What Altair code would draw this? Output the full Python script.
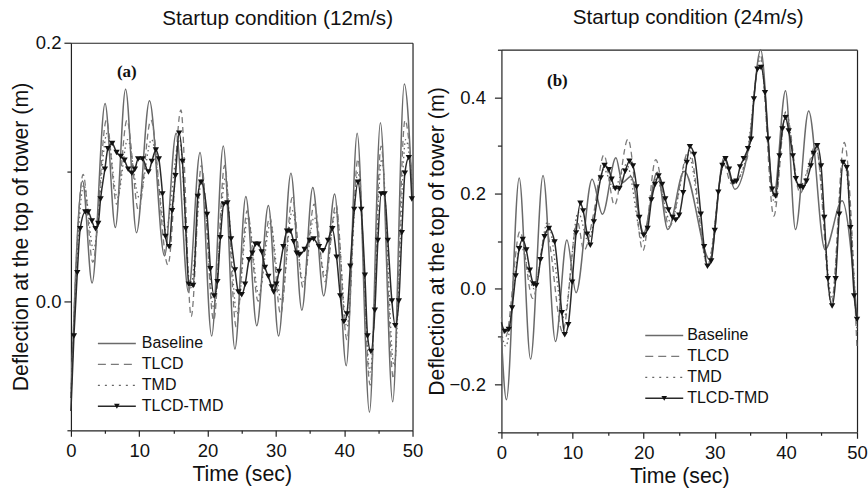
import altair as alt
import pandas as pd

FONT = "Liberation Sans"

# ---------------- Panel (a): startup condition 12 m/s ----------------
a_base_t = [0, 1.7, 3.1, 5.0, 6.5, 8.0, 9.6, 11.5, 13.7, 15.4, 17.2, 18.9, 20.6, 22.3, 24.0, 25.6,
            27.2, 28.9, 30.4, 32.2, 33.8, 35.4, 37.0, 38.6, 40.3, 41.9, 43.7, 45.3, 47.1, 48.8, 50]
a_base_v = [-0.075, 0.093, 0.014, 0.153, 0.057, 0.164, 0.053, 0.155, 0.035, 0.130, 0.007, 0.115,
            -0.027, 0.120, -0.037, 0.081, -0.019, 0.074, -0.027, 0.099, -0.007, 0.088, 0.004, 0.083,
            -0.050, 0.130, -0.086, 0.138, -0.078, 0.168, 0.079]

a_tlcd_t = [0, 1.8, 3.2, 5.2, 6.7, 8.2, 9.9, 11.7, 14.2, 16.1, 17.6, 19.1, 20.9, 22.5, 24.2, 25.8,
            27.4, 29.1, 30.7, 32.4, 34.0, 35.6, 37.2, 38.8, 40.4, 42.0, 43.8, 45.4, 47.2, 48.9, 50]
a_tlcd_v = [-0.075, 0.098, 0.030, 0.140, 0.075, 0.140, 0.070, 0.140, 0.028, 0.148, -0.012, 0.105,
            -0.015, 0.105, -0.020, 0.070, 0.000, 0.065, -0.010, 0.080, 0.010, 0.075, 0.015, 0.075,
            -0.030, 0.110, -0.065, 0.120, -0.060, 0.140, 0.090]

a_tmd_t = [0, 1.9, 3.3, 5.3, 6.8, 8.3, 10.0, 11.8, 13.9, 15.9, 17.5, 19.2, 20.9, 22.6, 24.3, 25.9,
           27.5, 29.2, 30.8, 32.4, 34.0, 35.6, 37.2, 38.8, 40.4, 42.0, 43.8, 45.5, 47.3, 49.0, 50]
a_tmd_v = [-0.075, 0.090, 0.040, 0.130, 0.080, 0.125, 0.080, 0.125, 0.055, 0.125, 0.010, 0.095,
           -0.005, 0.095, -0.010, 0.065, 0.005, 0.060, 0.000, 0.070, 0.015, 0.065, 0.020, 0.070,
           -0.020, 0.100, -0.055, 0.110, -0.050, 0.125, 0.090]

a_comb_t = [0, 0.44, 0.93, 1.36, 2.10, 2.53, 3.07, 3.61, 4.00, 4.34, 4.97, 5.41, 6.04, 6.68, 7.31,
            7.85, 8.38, 8.92, 9.36, 9.84, 10.48, 11.35, 11.84, 12.43, 12.87, 13.40, 13.84, 14.38,
            14.81, 15.30, 15.84, 16.33, 16.81, 17.25, 17.89, 18.57, 19.05, 19.93, 20.42, 20.96,
            21.44, 21.88, 22.37, 22.90, 23.44, 24.02, 24.51, 25.00, 25.49, 26.07, 26.56, 27.00,
            27.44, 27.92, 28.41, 28.90, 29.39, 29.68, 30.07, 30.46, 31.09, 31.63, 32.11, 32.60,
            33.04, 33.48, 34.21, 34.94, 35.53, 36.31, 36.89, 37.62, 38.26, 38.89, 39.42, 39.96,
            40.40, 40.89, 41.47, 42.01, 42.50, 43.03, 43.42, 43.91, 44.49, 44.93, 45.42, 45.91,
            46.39, 46.98, 47.47, 48.00, 48.44, 48.88, 49.46, 49.90]
a_comb_v = [-0.085, -0.027, 0.022, 0.056, 0.069, 0.069, 0.062, 0.056, 0.060, 0.079, 0.102, 0.118,
            0.122, 0.115, 0.112, 0.109, 0.102, 0.099, 0.102, 0.110, 0.110, 0.100, 0.108, 0.117,
            0.110, 0.083, 0.050, 0.042, 0.070, 0.097, 0.130, 0.108, 0.056, 0.013, 0.012, 0.081,
            0.092, 0.067, 0.025, 0.004, 0.015, 0.049, 0.075, 0.076, 0.048, 0.024, 0.007, 0.005,
            0.013, 0.032, 0.037, 0.044, 0.044, 0.038, 0.026, 0.019, 0.011, 0.007, 0.013, 0.023,
            0.042, 0.054, 0.054, 0.046, 0.037, 0.036, 0.040, 0.047, 0.048, 0.042, 0.039, 0.047,
            0.056, 0.034, 0.004, -0.016, -0.010, 0.027, 0.071, 0.092, 0.071, 0.020, -0.027,
            -0.039, -0.007, 0.047, 0.083, 0.083, 0.047, 0.000, -0.019, 0.000, 0.053, 0.099,
            0.111, 0.079]

# ---------------- Panel (b): startup condition 24 m/s ----------------
b_base_t = [0, 0.7, 2.5, 4.1, 5.85, 7.6, 9.2, 10.5, 12.75, 14.2, 16.1, 17.0, 18.2, 20.0, 21.9, 23.4,
            25.7, 29.3, 31.3, 32.85, 34.8, 36.45, 38.3, 39.95, 41.35, 43.2, 45.5, 47.9, 50]
b_base_v = [-0.10, -0.232, 0.232, -0.147, 0.237, -0.110, 0.102, -0.008, 0.229, 0.156, 0.274, 0.222,
            0.235, 0.117, 0.244, 0.124, 0.246, 0.061, 0.274, 0.208, 0.300, 0.500, 0.194, 0.414,
            0.124, 0.372, 0.082, 0.184, -0.060]

b_tlcd_t = [0, 0.6, 2.6, 4.4, 6.3, 8.6, 10.7, 11.6, 13.0, 14.4, 15.9, 17.8, 19.9, 21.7, 23.6, 26.4,
            29.0, 31.3, 32.3, 34.5, 36.4, 38.3, 40.0, 42.0, 44.2, 46.4, 48.2, 50]
b_tlcd_v = [-0.06, -0.100, 0.120, -0.020, 0.120, -0.090, 0.140, 0.080, 0.160, 0.280, 0.175, 0.313,
            0.080, 0.270, 0.130, 0.290, 0.050, 0.260, 0.220, 0.270, 0.490, 0.152, 0.370, 0.200,
            0.300, -0.030, 0.306, -0.127]

b_tmd_t = [0, 0.6, 2.7, 4.6, 6.5, 8.8, 10.8, 12.2, 14.4, 15.8, 17.6, 19.9, 21.8, 23.8, 26.3, 29.0,
           31.4, 32.6, 34.5, 36.4, 38.4, 40.0, 41.8, 44.3, 46.5, 48.1, 50]
b_tmd_v = [-0.09, -0.120, 0.090, 0.000, 0.140, -0.060, 0.160, 0.100, 0.250, 0.210, 0.260, 0.100,
           0.230, 0.140, 0.280, 0.050, 0.270, 0.220, 0.280, 0.480, 0.180, 0.370, 0.210, 0.290,
           -0.020, 0.270, -0.090]

b_comb_t = [0, 0.47, 1.03, 1.5, 2.0, 2.5, 3.0, 3.5, 4.0, 4.5, 4.9, 5.5, 6.07, 6.68, 7.48, 8.5, 8.9,
            9.4, 9.95, 10.5, 11.1, 11.5, 12.06, 12.5, 13.0, 13.97, 14.5, 15.1, 15.5, 16.0, 16.6,
            17.4, 18.0, 18.5, 19.0, 19.4, 20.0, 20.56, 21.1, 21.6, 22.1, 22.6, 23.04, 23.5, 24.07,
            24.5, 25.0, 25.56, 26.07, 26.5, 27.1, 28.04, 28.5, 28.97, 29.5, 30.0, 30.5, 31.07,
            31.5, 32.0, 32.57, 33.04, 33.55, 34.07, 34.67, 35.1, 35.5, 36.0, 36.5, 37.06, 37.5,
            38.08, 38.55, 39.1, 39.5, 39.95, 40.4, 40.98, 41.4, 41.96, 42.4, 42.9, 43.5, 43.9,
            44.4, 44.95, 45.4, 45.9, 46.5, 47.0, 47.5, 48.04, 48.55, 49.07, 49.6, 50]
b_comb_v = [-0.07, -0.089, -0.085, -0.040, 0.027, 0.084, 0.103, 0.081, 0.039, 0.010, 0.007, 0.061,
            0.109, 0.126, 0.098, -0.050, -0.096, -0.075, 0.014, 0.117, 0.179, 0.163, 0.114, 0.091,
            0.140, 0.232, 0.258, 0.249, 0.229, 0.210, 0.210, 0.246, 0.267, 0.257, 0.213, 0.149,
            0.112, 0.126, 0.186, 0.218, 0.236, 0.218, 0.188, 0.165, 0.149, 0.144, 0.154, 0.201,
            0.264, 0.297, 0.281, 0.156, 0.088, 0.047, 0.058, 0.122, 0.202, 0.258, 0.272, 0.250,
            0.223, 0.225, 0.255, 0.272, 0.293, 0.313, 0.397, 0.459, 0.463, 0.410, 0.313, 0.208,
            0.194, 0.278, 0.334, 0.358, 0.330, 0.278, 0.230, 0.214, 0.212, 0.225, 0.257, 0.283,
            0.299, 0.257, 0.149, 0.021, -0.036, 0.021, 0.156, 0.264, 0.253, 0.128, -0.015, -0.064]

legend_labels = ["Baseline", "TLCD", "TMD", "TLCD-TMD"]
x_major = [0, 10, 20, 30, 40, 50]
x_minor = [5, 15, 25, 35, 45]
a_y_major = [0.0, 0.2]
a_y_minor = [-0.1, 0.1]
b_y_major = [-0.2, 0.0, 0.2, 0.4]
b_y_minor = [-0.3, -0.1, 0.1, 0.3, 0.5]

STYLES = {
    "Baseline": dict(color="#6a6a6a", strokeWidth=1.5),
    "TLCD": dict(color="#7a7a7a", strokeWidth=1.3, strokeDash=[6, 4]),
    "TMD": dict(color="#666666", strokeWidth=1.3, strokeDash=[1.5, 3]),
    "TLCD-TMD": dict(color="#2a2a2a", strokeWidth=1.5),
}
LEG_DASH = {"TLCD": [8, 5], "TMD": [2, 5]}
FRAME = "#222222"


def frame(t, v):
    return pd.DataFrame({"t": t, "v": v})


def panel(series, ydom, ymaj, ymin, w, h, top, title, title_dx, title_off, tag, tag_xy,
          leg_x, leg_y, leg_gap, ylab_pad, ytitle_pad):
    xs = alt.Scale(domain=[0, 50], nice=False, zero=False)
    ys = alt.Scale(domain=ydom, range=[h, top], nice=False, zero=False)
    x_main = alt.X("t:Q", scale=xs, axis=alt.Axis(
        values=x_major, title="Time (sec)", orient="bottom", tickSize=6, labelPadding=5,
        titlePadding=4, format="d", labelFlush=False, labelOverlap=False))
    y_main = alt.Y("v:Q", scale=ys, axis=alt.Axis(
        values=ymaj, title="Deflection at the top of tower (m)", orient="left", tickSize=7,
        labelPadding=ylab_pad, titlePadding=ytitle_pad, format=".1f", labelFlush=False,
        labelOverlap=False))
    x_min = alt.X("t:Q", scale=xs, axis=alt.Axis(
        values=x_minor, labels=False, domain=False, orient="bottom", tickSize=3, title=None))
    y_min = alt.Y("v:Q", scale=ys, axis=alt.Axis(
        values=ymin, labels=False, domain=False, orient="left", tickSize=4, title=None))
    x_top = alt.X("t:Q", scale=xs, axis=alt.Axis(
        orient="top", offset=-top, ticks=False, labels=False, domain=True, title=None))
    y_right = alt.Y("v:Q", scale=ys, axis=alt.Axis(
        orient="right", ticks=False, labels=False, domain=True, title=None))
    x_no = alt.X("t:Q", scale=xs, axis=None)
    y_no = alt.Y("v:Q", scale=ys, axis=None)

    base, tlcd, tmd, comb = series
    layers = [
        alt.Chart(frame(*base)).mark_line(interpolate="monotone", **STYLES["Baseline"]).encode(x=x_main, y=y_main),
        alt.Chart(frame(*tlcd)).mark_line(interpolate="monotone", **STYLES["TLCD"]).encode(x=x_min, y=y_min),
        alt.Chart(frame(*tmd)).mark_line(interpolate="monotone", **STYLES["TMD"]).encode(x=x_top, y=y_right),
        alt.Chart(frame(*comb)).mark_line(interpolate="monotone", **STYLES["TLCD-TMD"]).encode(x=x_no, y=y_no),
        alt.Chart(frame(*comb)).transform_filter("datum.t > 0").mark_point(
            shape="triangle-down", filled=True, size=40, color="#111111", opacity=1).encode(x=x_no, y=y_no),
    ]
    for i, name in enumerate(legend_labels):
        yy = leg_y + i * 21
        st = dict(STYLES[name])
        if name in LEG_DASH:
            st["strokeDash"] = LEG_DASH[name]
        ldf = pd.DataFrame({"label": [name]})
        layers.append(alt.Chart(ldf).mark_rule(**st).encode(
            x=alt.value(leg_x), x2=alt.value(leg_x + 38), y=alt.value(yy)))
        layers.append(alt.Chart(ldf).mark_text(
            align="left", baseline="middle", fontSize=16, font=FONT, color="#111111").encode(
            x=alt.value(leg_x + leg_gap), y=alt.value(yy), text="label:N"))
        if name == "TLCD-TMD":
            layers.append(alt.Chart(ldf).mark_point(
                shape="triangle-down", filled=True, size=32, color="#111111", opacity=1).encode(
                x=alt.value(leg_x + 19), y=alt.value(yy)))
    tdf = pd.DataFrame({"label": [tag]})
    layers.append(alt.Chart(tdf).mark_text(
        align="center", baseline="middle", fontSize=17, font="Liberation Serif",
        fontWeight="bold", color="#111111").encode(
        x=alt.value(tag_xy[0]), y=alt.value(tag_xy[1]), text="label:N"))

    return alt.layer(*layers, title=alt.TitleParams(
        text=title, fontSize=20.7, font=FONT, fontWeight="normal", anchor="middle",
        dx=title_dx, offset=title_off, color="#111111")).properties(
        width=w, height=h).resolve_axis(x="independent", y="independent")


pa = panel([(a_base_t, a_base_v), (a_tlcd_t, a_tlcd_v), (a_tmd_t, a_tmd_v), (a_comb_t, a_comb_v)],
           [-0.1, 0.2], a_y_major, a_y_minor, 342, 388, 0, "Startup condition (12m/s)", 36, 4,
           "(a)", (56, 29), 27, 301, 44, 3, 4)
pb = panel([(b_base_t, b_base_v), (b_tlcd_t, b_tlcd_v), (b_tmd_t, b_tmd_v), (b_comb_t, b_comb_v)],
           [-0.3, 0.5], b_y_major, b_y_minor, 356, 390, 7, "Startup condition (24m/s)", 9, 14,
           "(b)", (56, 38), 144, 293, 42, 9, 1)

chart = alt.hconcat(pa, pb, spacing=3).configure_view(
    stroke=None).configure_axis(
    domainColor=FRAME, tickColor=FRAME, labelColor="#111111", titleColor="#111111",
    labelFont=FONT, titleFont=FONT, labelFontSize=18.5, titleFontSize=21.3,
    titleFontWeight="normal", grid=False, domainWidth=1.2, tickWidth=1.2).properties(
    padding={"left": 10, "top": 6.5, "right": 0, "bottom": 0})

chart.save("out.html", embed_options={"renderer": "svg", "actions": False})
